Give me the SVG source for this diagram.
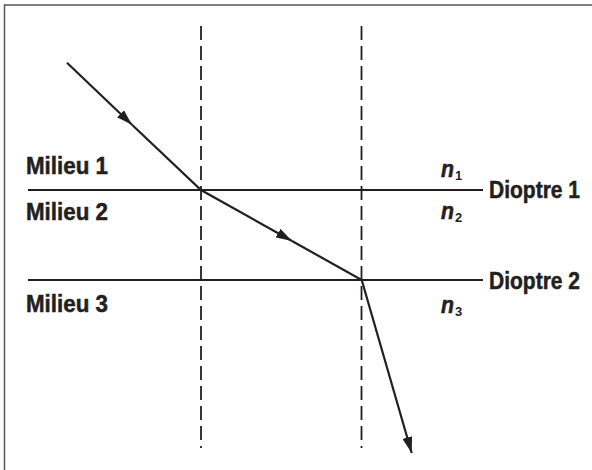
<svg xmlns="http://www.w3.org/2000/svg" width="592" height="470" viewBox="0 0 592 470">
<style>
.lbl{font-family:"Liberation Sans",Arial,sans-serif;font-weight:bold;font-size:23px;fill:#231f20;stroke:#231f20;stroke-width:0.5}
.n{font-family:"Liberation Sans",Arial,sans-serif;font-weight:bold;font-style:italic;font-size:24px;fill:#231f20;stroke:#231f20;stroke-width:0.6}
.sub{font-family:"Liberation Sans",Arial,sans-serif;font-weight:bold;font-size:13px;fill:#231f20}
.dio{stroke:#231f20;stroke-width:2;fill:none}
.norm{stroke:#231f20;stroke-width:1.8;stroke-dasharray:14 6;fill:none}
.ray{stroke:#231f20;stroke-width:2.2;fill:none;stroke-linejoin:miter}
</style>
<defs>
<marker id="arr" markerUnits="userSpaceOnUse" viewBox="0 0 16 10" refX="16" refY="5" markerWidth="16" markerHeight="10" orient="auto">
<path d="M0,0 L16,5 L0,10 Z" fill="#231f20"/>
</marker>
</defs>
<rect x="4.5" y="5" width="600" height="480" fill="#fff" stroke="#555" stroke-width="1.5"/>
<g id="normal1"><line class="norm" x1="201" y1="26" x2="201" y2="448"/></g>
<g id="normal2"><line class="norm" x1="361.5" y1="26" x2="361.5" y2="448"/></g>
<g id="dioptre1"><line class="dio" x1="28" y1="190" x2="483" y2="190"/><text class="lbl" x="489" y="198" textLength="91" lengthAdjust="spacingAndGlyphs">Dioptre 1</text></g>
<g id="dioptre2"><line class="dio" x1="28" y1="280" x2="483" y2="280"/><text class="lbl" x="489" y="289" textLength="91" lengthAdjust="spacingAndGlyphs">Dioptre 2</text></g>
<g id="milieu1"><text class="lbl" x="26" y="174" textLength="82" lengthAdjust="spacingAndGlyphs">Milieu 1</text><text class="n" x="441" y="177" textLength="13" lengthAdjust="spacingAndGlyphs">n</text><text class="sub" x="455" y="180">1</text></g>
<g id="milieu2"><text class="lbl" x="26" y="220" textLength="82" lengthAdjust="spacingAndGlyphs">Milieu 2</text><text class="n" x="441" y="219" textLength="13" lengthAdjust="spacingAndGlyphs">n</text><text class="sub" x="455" y="222">2</text></g>
<g id="milieu3"><text class="lbl" x="26" y="312" textLength="82" lengthAdjust="spacingAndGlyphs">Milieu 3</text><text class="n" x="441" y="313" textLength="13" lengthAdjust="spacingAndGlyphs">n</text><text class="sub" x="455" y="316">3</text></g>
<g id="connectors">
<path class="ray" d="M67,62.7 L132,124.8" marker-end="url(#arr)"/>
<path class="ray" d="M132,124.8 L201,190 L292,241" marker-end="url(#arr)"/>
<path class="ray" d="M292,241 L361.7,280 L411.7,453" marker-end="url(#arr)"/>
</g>
</svg>
